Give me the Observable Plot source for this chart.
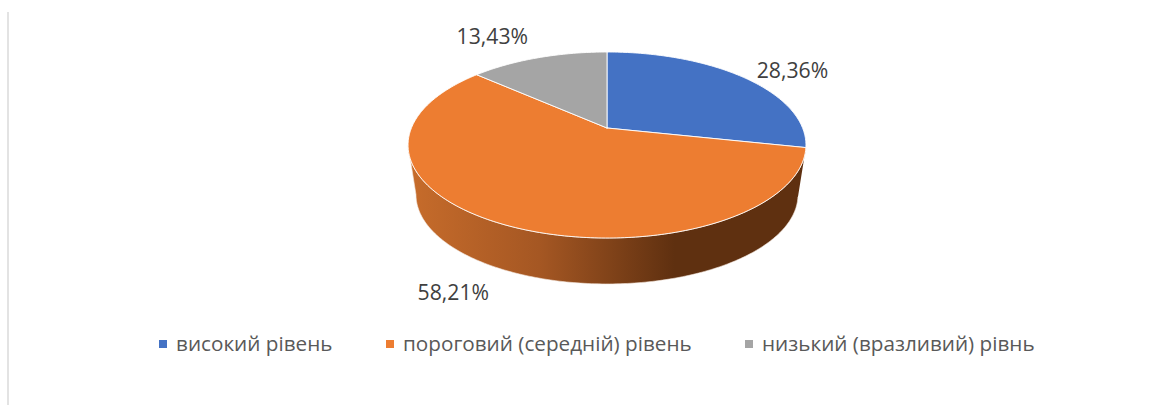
<!DOCTYPE html>
<html><head><meta charset="utf-8">
<script src="https://cdn.jsdelivr.net/npm/d3@7"></script>
<script src="https://cdn.jsdelivr.net/npm/@observablehq/plot@0.6"></script>
<style>
html,body{margin:0;padding:0;background:#fff;overflow:hidden}
#wrap{position:relative;width:1165px;height:405px}
#rule{position:absolute;left:7px;top:12px;bottom:0;width:2px;background:#e3e3e3}
#chart{position:absolute;left:0;top:0}
#legend{position:absolute;left:0;top:328px;width:1165px;height:30px;font:20.7px "Open Sans","Noto Sans",sans-serif;color:#595959}
#legend .it{position:absolute;top:0;line-height:30px;white-space:nowrap}
#legend i{position:absolute;top:12px;width:8px;height:8px}
</style></head><body>
<div id="wrap"><div id="rule"></div><div id="chart"></div><div id="legend"></div></div>
<script>
const categories = ["високий рівень", "пороговий (середній) рівень", "низький (вразливий) рівнь"];
const shares = [28.36, 58.21, 13.43];
const shareLabels = ["28,36%", "58,21%", "13,43%"];
const colors = ["#4472c4", "#ed7d31", "#a5a5a5"];

// perspective of the disc: nearer rim is larger
const k = 0.1828;
const project = (t, r = 1, scale = 1, drop = 0) => {
  const a = t / 100 * 2 * Math.PI, u = Math.sin(a) * r, v = Math.cos(a) * r, w = 1 + k * v;
  return {x: scale * u / w, y: scale * v / w - drop};
};
const arc = (from, to, opts) => {
  const n = Math.max(2, Math.ceil(Math.abs(to - from) * 4)), out = [];
  for (let i = 0; i <= n; ++i) out.push(project(from + (to - from) * i / n, 1, opts?.scale ?? 1, opts?.drop ?? 0));
  return out;
};

let acc = 0;
const slices = categories.map((name, i) => {
  const start = acc, end = acc + shares[i]; acc = end;
  return {name, start, end, mid: (start + end) / 2, color: colors[i], label: shareLabels[i]};
});
const slicePts = slices.flatMap(s => [{x: 0, y: 0}, ...arc(s.start, s.end), {x: 0, y: 0}].map(p => ({...p, name: s.name})));

// visible outer wall: from the right silhouette round the near rim to the left silhouette
const silhouetteRight = slices[0].end;
const silhouetteLeft = 100 - Math.acos(-k) / (2 * Math.PI) * 100;
const lower = {scale: 0.96, drop: 0.56};
const wall = [...arc(silhouetteRight, silhouetteLeft), ...arc(silhouetteLeft, silhouetteRight, lower)];

const labelOffsets = [[49, -6], [-48, 69], [-46, -21]];

const plot = Plot.plot({
  width: 1165, height: 325, margin: 0,
  x: {domain: [-1, 1], range: [606.5 - 195.6, 606.5 + 195.6], axis: null},
  y: {domain: [-1, 1], range: [127.5 + 89.9, 127.5 - 89.9], axis: null},
  marks: [
    () => {
      const ns = "http://www.w3.org/2000/svg";
      const defs = document.createElementNS(ns, "defs");
      const g = document.createElementNS(ns, "linearGradient");
      g.setAttribute("id", "wallGrad");
      g.setAttribute("x1", "0"); g.setAttribute("x2", "1"); g.setAttribute("y1", "0"); g.setAttribute("y2", "0");
      [[0, "#c76c2b"], [0.33, "#a55723"], [0.67, "#5f3010"], [1, "#5f3010"]].forEach(([o, c]) => {
        const s = document.createElementNS(ns, "stop");
        s.setAttribute("offset", o); s.setAttribute("stop-color", c); g.appendChild(s);
      });
      defs.appendChild(g);
      return defs;
    },
    Plot.line(wall, {x: "x", y: "y", fill: "url(#wallGrad)", stroke: "#f3e6dc", strokeWidth: 0.6}),
    ...slices.map(s => Plot.line(slicePts.filter(p => p.name === s.name), {
      x: "x", y: "y", fill: s.color, stroke: "#ffffff", strokeOpacity: 0.9, strokeWidth: 1, strokeLinejoin: "round"
    })),
    ...slices.map((s, i) => {
      const p = project(s.mid);
      return Plot.text([s.label], {
        x: () => p.x, y: () => p.y, text: d => d,
        dx: labelOffsets[i][0], dy: labelOffsets[i][1],
        fontSize: 21.2, fontFamily: "'Open Sans','Noto Sans',sans-serif", fill: "#404040"
      });
    })
  ]
});
document.getElementById("chart").appendChild(plot);

const legendX = [159, 386, 745];
const legend = document.getElementById("legend");
categories.forEach((c, i) => {
  const it = document.createElement("div");
  it.className = "it"; it.style.left = legendX[i] + "px"; it.style.paddingLeft = "17px";
  it.innerHTML = `<i style="left:0;background:${colors[i]}"></i>${c}`;
  legend.appendChild(it);
});
</script>
</body></html>
